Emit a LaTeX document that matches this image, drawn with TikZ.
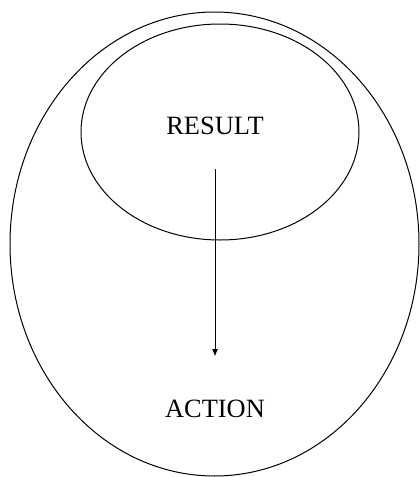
\documentclass[tikz,border=0pt]{standalone}
\usepackage{fontspec}
\setmainfont{Liberation Serif}
\usetikzlibrary{arrows.meta,positioning}

\begin{document}
\begin{tikzpicture}[x=0.5pt,y=-0.5pt,>=Latex,
ring/.style={draw,line width=0.5pt},
label text/.style={font=\fontsize{13.2}{15}\selectfont,inner sep=0pt},
flow/.style={-{Latex[length=3.5pt,width=3pt]},line width=0.5pt,shorten <=17pt,shorten >=21.5pt}]
\useasboundingbox (0,0) rectangle (419,477);
\draw[ring] (214.5,244) ellipse [x radius=102.25pt,y radius=116pt];
\draw[ring] (220,132) ellipse [x radius=69.5pt,y radius=54pt];
\node[label text] (result) at (215,126) {RESULT};
\node[label text] (action) at (215,408.5) {ACTION};
\draw[flow] (result) -- (action);
\end{tikzpicture}
\end{document}
